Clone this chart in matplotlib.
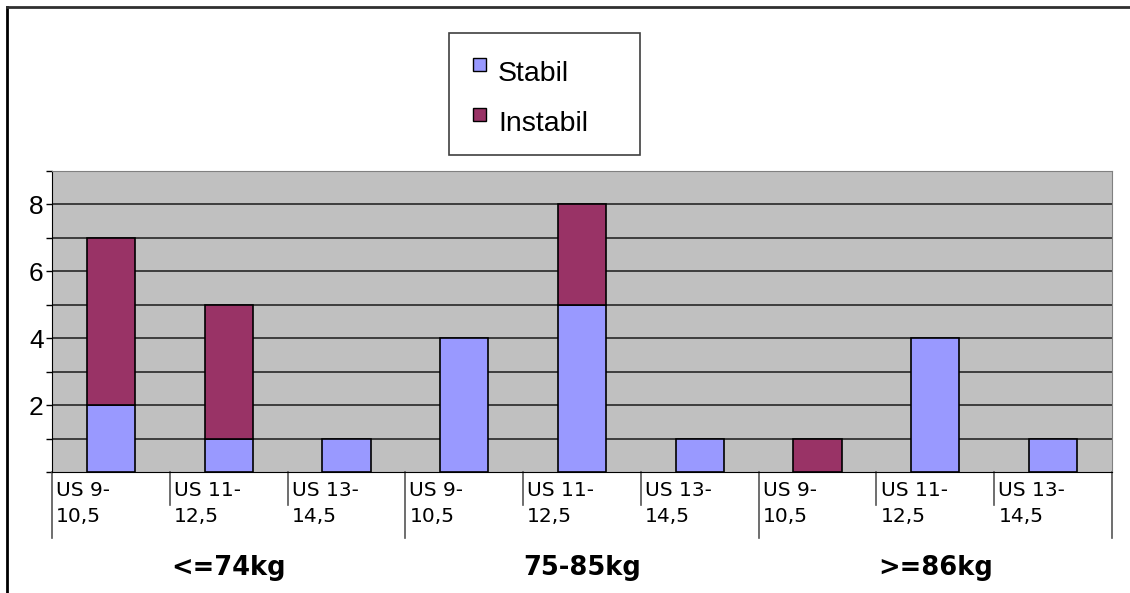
import matplotlib.pyplot as plt
from matplotlib.patches import Rectangle
from matplotlib.lines import Line2D
import matplotlib.transforms as mtransforms

groups = ['<=74kg', '75-85kg', '>=86kg']
sizes = ['US 9-\n10,5', 'US 11-\n12,5', 'US 13-\n14,5']
stabil = [2, 1, 1, 4, 5, 1, 0, 4, 1]
instabil = [5, 4, 0, 0, 3, 0, 1, 0, 0]

c_stabil = '#9999FF'
c_instabil = '#993366'

fig = plt.figure(figsize=(11.3, 5.93), dpi=100)
ax = fig.add_axes([52 / 1130, 1 - 472 / 593, 1060 / 1130, 301 / 593])
ax.set_facecolor('#C0C0C0')

x = list(range(len(stabil)))
for i in x:
    if stabil[i] > 0:
        ax.bar(i, stabil[i], width=0.41, color=c_stabil, edgecolor='black',
               linewidth=1.2, zorder=3)
    if instabil[i] > 0:
        ax.bar(i, instabil[i], bottom=stabil[i], width=0.41, color=c_instabil,
               edgecolor='black', linewidth=1.2, zorder=3)

ax.set_xlim(-0.5, 8.5)
ax.set_ylim(0, 9)

# horizontal lines at every integer below the top
for y in range(1, 9):
    ax.axhline(y, color='#1a1a1a', linewidth=1.1, zorder=1)

ax.set_yticks(range(0, 10))
ax.set_yticklabels(['', '', '2', '', '4', '', '6', '', '8', ''],
                   fontfamily='Liberation Sans', fontsize=19)
ax.tick_params(axis='y', length=4, width=1, pad=2, colors='black')
ax.set_xticks([])

for side in ['top', 'right']:
    ax.spines[side].set_color('#808080')
ax.spines['left'].set_color('black')
ax.spines['bottom'].set_color('black')

# category labels and separators below the axis
trans = mtransforms.blended_transform_factory(ax.transData, ax.transAxes)
for i in x:
    ax.text(i - 0.465, -0.03, sizes[i % 3], transform=trans, ha='left', va='top',
            fontfamily='DejaVu Sans', fontsize=14.5, linespacing=1.45)
for b in range(10):
    bottom = -0.22 if b % 3 == 0 else -0.11
    ax.add_line(Line2D([b - 0.5, b - 0.5], [0, bottom], transform=trans,
                       color='#555555', linewidth=1.2, clip_on=False))
for g, name in enumerate(groups):
    ax.text(g * 3 + 1, -0.32, name, transform=trans, ha='center', va='center',
            fontfamily='DejaVu Sans', fontweight='bold', fontsize=18.5)

# legend box
W, H = 1130, 593
fig.add_artist(Rectangle((449 / W, 1 - 155 / H), 191 / W, 122 / H,
                         transform=fig.transFigure, facecolor='white',
                         edgecolor='#404040', linewidth=1.2))
for (label, color, yc) in [('Stabil', c_stabil, 74), ('Instabil', c_instabil, 124)]:
    fig.add_artist(Rectangle((473 / W, 1 - (yc - 3) / H), 13 / W, 13 / H,
                             transform=fig.transFigure, facecolor=color,
                             edgecolor='black', linewidth=1))
    fig.text(498 / W, 1 - yc / H, label, ha='left', va='center',
             fontfamily='Liberation Sans', fontsize=20.5)

# outer frame on top and left
fig.add_artist(Line2D([7 / W, 7 / W], [0, 1 - 7 / H], transform=fig.transFigure,
                      color='black', linewidth=2))
fig.add_artist(Line2D([7 / W, 1], [1 - 7 / H, 1 - 7 / H], transform=fig.transFigure,
                      color='#303030', linewidth=2))

fig.savefig('out.png', dpi=100)
